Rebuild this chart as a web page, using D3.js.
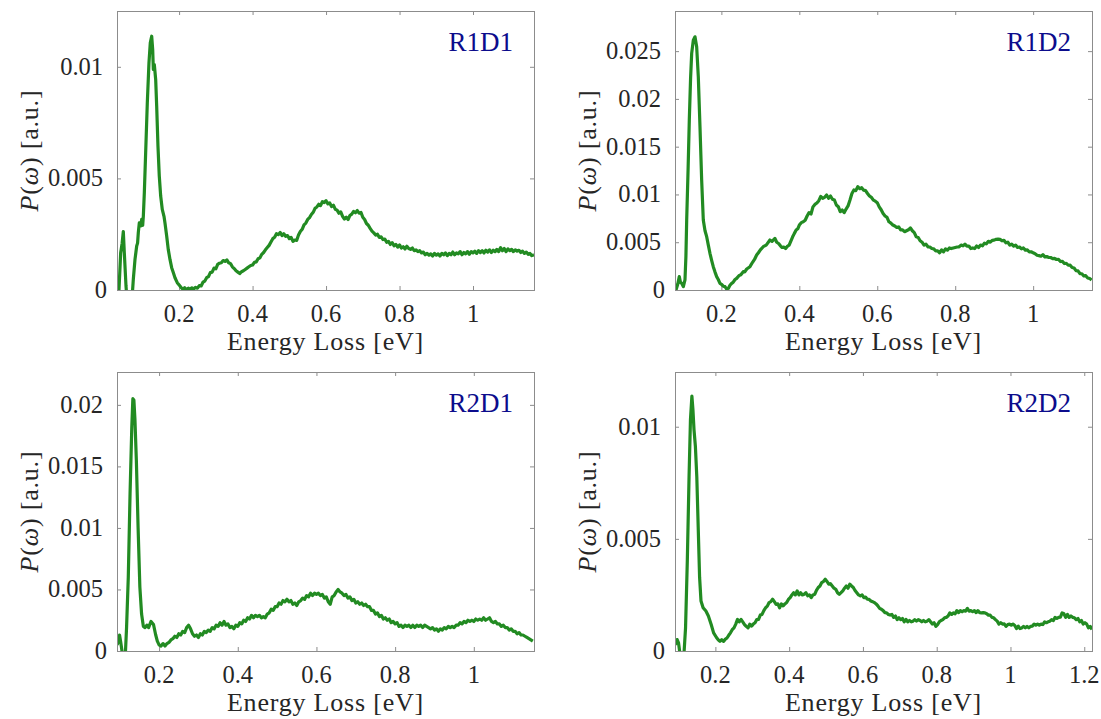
<!DOCTYPE html>
<html><head><meta charset="utf-8">
<script src="https://cdn.jsdelivr.net/npm/d3@7"></script>
<style>body{margin:0;background:#fff}</style>
</head><body><svg id="c" width="1101" height="719"></svg>
<script>
const seriesR1D1=[[0.034,-0.0006],[0.0364,0],[0.041,0.00167],[0.045,0.0021],[0.0482,0.00262],[0.0509,0.00167],[0.0555,0.00018],[0.059,-0.0006],[0.066,-0.0008],[0.0727,-0.0002],[0.0754,0.00048],[0.080,0.00137],[0.0846,0.00197],[0.087,0.0021],[0.089,0.00257],[0.0917,0.00301],[0.0955,0.00287],[0.0982,0.00316],[0.1009,0.0029],[0.1027,0.00331],[0.1054,0.00436],[0.109,0.00615],[0.1135,0.00839],[0.118,0.01018],[0.1216,0.01107],[0.1254,0.01137],[0.1281,0.01078],[0.1299,0.00988],[0.1326,0.0101],[0.1363,0.00943],[0.139,0.00824],[0.1425,0.00645],[0.1461,0.0051],[0.1499,0.00421],[0.1542,0.00361],[0.1589,0.0033],[0.1616,0.003],[0.1662,0.00242],[0.1705,0.00182],[0.1752,0.00137],[0.1798,0.001],[0.1842,0.00078],[0.1888,0.00055],[0.195,0.00033],[0.2024,0.00018],[0.205,0.00012],[0.21,0.00004],[0.215,0.0001],[0.22,0.00002],[0.225,0.00008],[0.23,0.00003],[0.235,0.0001],[0.24,0.00005],[0.245,0.00012],[0.25,0.00008],[0.255,0.0002],[0.26,0.00018],[0.265,0.00035],[0.27,0.0004],[0.275,0.00055],[0.28,0.0006],[0.285,0.00078],[0.29,0.0008],[0.295,0.00098],[0.3,0.00095],[0.305,0.00115],[0.31,0.0012],[0.315,0.00122],[0.32,0.00132],[0.325,0.00128],[0.33,0.00135],[0.335,0.00122],[0.34,0.00118],[0.345,0.00104],[0.35,0.00096],[0.355,0.00086],[0.36,0.0008],[0.365,0.00074],[0.37,0.00082],[0.375,0.00086],[0.38,0.00092],[0.385,0.00098],[0.39,0.00104],[0.395,0.0011],[0.4,0.00112],[0.405,0.00124],[0.41,0.00126],[0.415,0.0014],[0.42,0.00144],[0.425,0.0016],[0.43,0.00168],[0.435,0.0018],[0.44,0.0019],[0.445,0.002],[0.45,0.00215],[0.455,0.0023],[0.46,0.00236],[0.465,0.00252],[0.47,0.00248],[0.475,0.00258],[0.48,0.00244],[0.485,0.00252],[0.49,0.0024],[0.495,0.00244],[0.5,0.0023],[0.505,0.00236],[0.51,0.00218],[0.515,0.00224],[0.52,0.00222],[0.525,0.00246],[0.53,0.00262],[0.535,0.00272],[0.54,0.00292],[0.545,0.003],[0.55,0.00316],[0.555,0.00324],[0.56,0.00338],[0.565,0.00348],[0.57,0.00366],[0.575,0.00372],[0.58,0.00384],[0.585,0.00378],[0.59,0.00396],[0.595,0.00392],[0.6,0.004],[0.605,0.00386],[0.61,0.0039],[0.615,0.00374],[0.62,0.0038],[0.625,0.00362],[0.63,0.00358],[0.635,0.00344],[0.64,0.0035],[0.645,0.0033],[0.65,0.00318],[0.655,0.00326],[0.66,0.00316],[0.665,0.00334],[0.67,0.0034],[0.675,0.00352],[0.68,0.00346],[0.685,0.00356],[0.69,0.00344],[0.695,0.00348],[0.7,0.00326],[0.705,0.00316],[0.71,0.00298],[0.715,0.0029],[0.72,0.00276],[0.725,0.00264],[0.73,0.00256],[0.735,0.00246],[0.74,0.0025],[0.745,0.00236],[0.75,0.00238],[0.755,0.00226],[0.76,0.00228],[0.765,0.00214],[0.77,0.00218],[0.775,0.00204],[0.78,0.00212],[0.785,0.00198],[0.79,0.00204],[0.795,0.00192],[0.8,0.00202],[0.805,0.00188],[0.81,0.00194],[0.815,0.00184],[0.82,0.00196],[0.825,0.00186],[0.83,0.00182],[0.835,0.00188],[0.84,0.00176],[0.845,0.0018],[0.85,0.00172],[0.855,0.00176],[0.86,0.00166],[0.865,0.0017],[0.87,0.00158],[0.875,0.00164],[0.88,0.00156],[0.885,0.00162],[0.89,0.00152],[0.895,0.00164],[0.9,0.00156],[0.905,0.00162],[0.91,0.00152],[0.915,0.00164],[0.92,0.00158],[0.925,0.00166],[0.93,0.00154],[0.935,0.00164],[0.94,0.00158],[0.945,0.0017],[0.95,0.00158],[0.955,0.00166],[0.96,0.00162],[0.965,0.00172],[0.97,0.00158],[0.975,0.00168],[0.98,0.00162],[0.985,0.00172],[0.99,0.0016],[0.995,0.00172],[1.0,0.00166],[1.005,0.00174],[1.01,0.00164],[1.015,0.00176],[1.02,0.00168],[1.025,0.00176],[1.03,0.00166],[1.035,0.00178],[1.04,0.0017],[1.045,0.0018],[1.05,0.00168],[1.055,0.00178],[1.06,0.00172],[1.065,0.00182],[1.07,0.00172],[1.075,0.0019],[1.08,0.00176],[1.085,0.00186],[1.09,0.00172],[1.095,0.00184],[1.1,0.00176],[1.105,0.00182],[1.11,0.00172],[1.115,0.0018],[1.12,0.00174],[1.125,0.00178],[1.13,0.00168],[1.135,0.00174],[1.14,0.00164],[1.145,0.0017],[1.15,0.0016],[1.155,0.00164],[1.16,0.00154],[1.166,0.00158]];

const seriesR1D2=[[0.0836,0],[0.088,0.0006],[0.092,0.0014],[0.095,0.0008],[0.0982,0.0007],[0.1024,0.00035],[0.1066,0.00105],[0.109,0.0035],[0.111,0.00732],[0.1145,0.0125],[0.1177,0.01778],[0.121,0.0222],[0.1238,0.02476],[0.128,0.02615],[0.1323,0.0265],[0.1366,0.02546],[0.1408,0.02232],[0.1451,0.01709],[0.1494,0.01151],[0.1536,0.00732],[0.158,0.0062],[0.1623,0.00558],[0.1665,0.0047],[0.1707,0.00384],[0.175,0.0031],[0.1792,0.00244],[0.1835,0.0019],[0.1879,0.0014],[0.192,0.0011],[0.1964,0.0007],[0.2,0.0006],[0.205,0.0004],[0.2092,0.00035],[0.2135,0.0001],[0.2177,0.00017],[0.222,0.0005],[0.2264,0.0007],[0.23,0.0008],[0.235,0.0011],[0.2392,0.00122],[0.245,0.0015],[0.25,0.0016],[0.2561,0.00192],[0.26,0.0019],[0.265,0.0022],[0.2733,0.00244],[0.28,0.0029],[0.285,0.0032],[0.2905,0.00366],[0.295,0.0039],[0.3,0.0042],[0.3074,0.00453],[0.315,0.0047],[0.3246,0.00523],[0.33,0.0051],[0.3374,0.0054],[0.342,0.005],[0.3468,0.00487],[0.352,0.0046],[0.3559,0.00445],[0.36,0.0045],[0.3649,0.00434],[0.37,0.0046],[0.3739,0.00469],[0.378,0.0051],[0.3829,0.00557],[0.387,0.0059],[0.3919,0.00627],[0.396,0.0064],[0.4,0.0068],[0.405,0.00705],[0.41,0.00714],[0.415,0.0073],[0.42,0.00774],[0.425,0.0081],[0.43,0.00795],[0.435,0.0087],[0.44,0.00896],[0.445,0.0091],[0.45,0.00935],[0.455,0.0098],[0.46,0.0096],[0.465,0.0097],[0.47,0.00994],[0.475,0.0096],[0.48,0.00984],[0.485,0.0095],[0.49,0.00942],[0.495,0.0089],[0.5,0.00872],[0.505,0.0082],[0.51,0.00837],[0.515,0.0081],[0.52,0.00847],[0.525,0.0088],[0.53,0.00942],[0.535,0.0101],[0.54,0.01047],[0.545,0.0104],[0.55,0.01082],[0.555,0.0106],[0.56,0.0107],[0.565,0.01045],[0.57,0.0104],[0.575,0.0101],[0.58,0.00984],[0.585,0.0097],[0.59,0.0094],[0.595,0.0093],[0.6,0.00914],[0.605,0.0087],[0.61,0.0084],[0.615,0.008],[0.62,0.00774],[0.625,0.0076],[0.63,0.00714],[0.635,0.0070],[0.64,0.0068],[0.645,0.0067],[0.65,0.00655],[0.655,0.0066],[0.66,0.0063],[0.665,0.0063],[0.67,0.0061],[0.675,0.0062],[0.68,0.0063],[0.685,0.0065],[0.69,0.0062],[0.695,0.006],[0.7,0.00557],[0.705,0.0055],[0.71,0.00515],[0.715,0.005],[0.72,0.00469],[0.725,0.0048],[0.73,0.00452],[0.735,0.0045],[0.74,0.00434],[0.745,0.0043],[0.75,0.0041],[0.755,0.0041],[0.76,0.0039],[0.765,0.0042],[0.77,0.0040],[0.775,0.0043],[0.78,0.00417],[0.785,0.0044],[0.79,0.00434],[0.795,0.0044],[0.8,0.00445],[0.805,0.0045],[0.81,0.00452],[0.815,0.0047],[0.82,0.00462],[0.825,0.0048],[0.83,0.00459],[0.835,0.0046],[0.84,0.00434],[0.845,0.0044],[0.85,0.00434],[0.855,0.0046],[0.86,0.00445],[0.865,0.0047],[0.87,0.00462],[0.875,0.0049],[0.88,0.00483],[0.885,0.0051],[0.89,0.005],[0.895,0.0052],[0.9,0.00522],[0.905,0.0053],[0.91,0.00532],[0.915,0.0053],[0.92,0.00515],[0.925,0.0052],[0.93,0.00494],[0.935,0.005],[0.94,0.00469],[0.945,0.0048],[0.95,0.00459],[0.955,0.0047],[0.96,0.00445],[0.965,0.0045],[0.97,0.00431],[0.975,0.0044],[0.98,0.00417],[0.985,0.0042],[0.99,0.004],[0.995,0.0040],[1.0,0.00389],[1.005,0.0038],[1.01,0.00364],[1.015,0.0036],[1.02,0.00354],[1.025,0.0037],[1.03,0.00347],[1.035,0.0035],[1.04,0.0034],[1.045,0.0034],[1.05,0.00329],[1.055,0.0033],[1.06,0.00319],[1.065,0.0032],[1.07,0.00298],[1.075,0.003],[1.08,0.00277],[1.085,0.0028],[1.09,0.00259],[1.095,0.0026],[1.1,0.00235],[1.105,0.0023],[1.11,0.00203],[1.115,0.002],[1.12,0.00172],[1.125,0.0017],[1.13,0.00147],[1.135,0.0015],[1.14,0.00126],[1.145,0.0012],[1.15,0.00105]];

const seriesR2D1=[[0.0932,0.0005],[0.0968,0.0008],[0.0995,0.0013],[0.1021,0.0008],[0.1057,0],[0.108,-0.0008],[0.111,-0.0006],[0.1146,0],[0.1173,0.0019],[0.1217,0.006],[0.1262,0.0128],[0.1306,0.0182],[0.1333,0.0205],[0.1359,0.0204],[0.1386,0.0188],[0.1422,0.0155],[0.1466,0.01005],[0.1511,0.0052],[0.1555,0.003],[0.16,0.002],[0.1644,0.0019],[0.1689,0.0021],[0.1733,0.0019],[0.1795,0.0024],[0.1858,0.00215],[0.1911,0.00134],[0.1955,0.0008],[0.2,0.0005],[0.205,0.0004],[0.21,0.0006],[0.215,0.0004],[0.22,0.0006],[0.225,0.0007],[0.23,0.0009],[0.235,0.001],[0.24,0.0012],[0.245,0.0011],[0.25,0.0014],[0.255,0.0013],[0.26,0.0016],[0.265,0.0015],[0.27,0.0019],[0.275,0.0021],[0.28,0.0018],[0.285,0.0014],[0.29,0.0012],[0.295,0.0013],[0.3,0.0011],[0.305,0.0014],[0.31,0.0013],[0.315,0.0016],[0.32,0.0015],[0.325,0.0017],[0.33,0.0016],[0.335,0.0019],[0.34,0.0018],[0.345,0.0021],[0.35,0.002],[0.355,0.0023],[0.36,0.0021],[0.365,0.0024],[0.37,0.0021],[0.375,0.0022],[0.38,0.0019],[0.385,0.002],[0.39,0.0018],[0.395,0.0021],[0.4,0.002],[0.405,0.0023],[0.41,0.0022],[0.415,0.0025],[0.42,0.0024],[0.425,0.0027],[0.43,0.0026],[0.435,0.0029],[0.44,0.0027],[0.445,0.0029],[0.45,0.0028],[0.455,0.0029],[0.46,0.0027],[0.465,0.0028],[0.47,0.0027],[0.475,0.003],[0.48,0.0031],[0.485,0.0034],[0.49,0.0033],[0.495,0.0036],[0.5,0.0036],[0.505,0.0039],[0.51,0.0038],[0.515,0.0041],[0.52,0.004],[0.525,0.0042],[0.53,0.004],[0.535,0.0041],[0.54,0.0038],[0.545,0.0039],[0.55,0.0037],[0.555,0.004],[0.56,0.0041],[0.565,0.0043],[0.57,0.0042],[0.575,0.0045],[0.58,0.0044],[0.585,0.0047],[0.59,0.0045],[0.595,0.0047],[0.6,0.0046],[0.605,0.0047],[0.61,0.0045],[0.615,0.0046],[0.62,0.0043],[0.625,0.0044],[0.63,0.004],[0.635,0.0038],[0.64,0.0044],[0.645,0.0045],[0.65,0.0048],[0.655,0.005],[0.66,0.0048],[0.665,0.0047],[0.67,0.0045],[0.675,0.0046],[0.68,0.0043],[0.685,0.0044],[0.69,0.0041],[0.695,0.0042],[0.7,0.0039],[0.705,0.004],[0.71,0.0038],[0.715,0.0039],[0.72,0.0037],[0.725,0.0038],[0.73,0.0036],[0.735,0.0036],[0.74,0.0033],[0.745,0.0033],[0.75,0.003],[0.755,0.0031],[0.76,0.0028],[0.765,0.0029],[0.77,0.0026],[0.775,0.0027],[0.78,0.0025],[0.785,0.0026],[0.79,0.0023],[0.795,0.0024],[0.8,0.0022],[0.805,0.0023],[0.81,0.002],[0.815,0.0021],[0.82,0.0019],[0.825,0.0021],[0.83,0.002],[0.835,0.0021],[0.84,0.0019],[0.845,0.0021],[0.85,0.0019],[0.855,0.0021],[0.86,0.002],[0.865,0.0021],[0.87,0.0019],[0.875,0.0021],[0.88,0.002],[0.885,0.0019],[0.89,0.0018],[0.895,0.0019],[0.9,0.0017],[0.905,0.0018],[0.91,0.0016],[0.915,0.0018],[0.92,0.0017],[0.925,0.0019],[0.93,0.0018],[0.935,0.002],[0.94,0.0019],[0.945,0.002],[0.95,0.0019],[0.955,0.0021],[0.96,0.0021],[0.965,0.0023],[0.97,0.0022],[0.975,0.0024],[0.98,0.0023],[0.985,0.0025],[0.99,0.0024],[0.995,0.0025],[1.0,0.0024],[1.005,0.0026],[1.01,0.0025],[1.015,0.0026],[1.02,0.0025],[1.025,0.0027],[1.03,0.0025],[1.035,0.0026],[1.04,0.0027],[1.045,0.0024],[1.05,0.0023],[1.055,0.0024],[1.06,0.0022],[1.065,0.0022],[1.07,0.002],[1.075,0.0021],[1.08,0.0019],[1.085,0.0019],[1.09,0.0017],[1.095,0.0018],[1.1,0.0016],[1.105,0.0016],[1.11,0.0014],[1.115,0.0015],[1.12,0.0013],[1.125,0.0013],[1.13,0.0012],[1.135,0.0011],[1.14,0.001],[1.145,0.0009],[1.15,0.0008]];

const seriesR2D2=[[0.0906,0.00028],[0.0934,0.00036],[0.0963,0.00051],[0.1001,0.00036],[0.103,0],[0.1077,-0.0005],[0.1153,0],[0.1191,0.00103],[0.1239,0.00403],[0.1286,0.00777],[0.1324,0.01031],[0.1363,0.01136],[0.1391,0.01076],[0.142,0.00987],[0.1458,0.00912],[0.1496,0.00777],[0.1534,0.00552],[0.1572,0.00328],[0.161,0.00223],[0.1667,0.00193],[0.1743,0.00178],[0.181,0.00156],[0.1886,0.00118],[0.1952,0.00081],[0.2029,0.0006],[0.2076,0.0005],[0.2124,0.00043],[0.2171,0.0005],[0.2219,0.00043],[0.2266,0.00052],[0.2314,0.00058],[0.2361,0.0007],[0.2409,0.00081],[0.2456,0.00095],[0.2504,0.00103],[0.2552,0.0012],[0.26,0.00141],[0.2647,0.0013],[0.2695,0.00141],[0.2742,0.0013],[0.279,0.00118],[0.2837,0.0011],[0.2885,0.00103],[0.2932,0.0012],[0.298,0.00111],[0.3027,0.0012],[0.3075,0.00126],[0.3122,0.0014],[0.317,0.00141],[0.3217,0.0016],[0.3265,0.00163],[0.3313,0.0018],[0.3361,0.00193],[0.3408,0.002],[0.3456,0.00216],[0.3503,0.0022],[0.3551,0.00231],[0.3598,0.0022],[0.3646,0.00208],[0.3693,0.0021],[0.3741,0.00193],[0.3788,0.0021],[0.3836,0.00201],[0.3884,0.0021],[0.3932,0.00216],[0.3979,0.0023],[0.4027,0.00238],[0.4074,0.0025],[0.4122,0.0026],[0.4169,0.0025],[0.4217,0.00268],[0.4264,0.0025],[0.4312,0.0026],[0.4359,0.0025],[0.4407,0.00253],[0.4454,0.0026],[0.4502,0.00246],[0.455,0.0025],[0.4598,0.00238],[0.4645,0.0025],[0.4693,0.00253],[0.474,0.0027],[0.4788,0.00283],[0.4835,0.0029],[0.4883,0.00305],[0.493,0.0031],[0.4978,0.0032],[0.5025,0.0031],[0.5073,0.00298],[0.512,0.003],[0.5168,0.0029],[0.5216,0.0028],[0.5264,0.00275],[0.5311,0.0026],[0.5359,0.00253],[0.5406,0.0026],[0.5454,0.00268],[0.5501,0.0028],[0.5549,0.0029],[0.5596,0.0028],[0.5644,0.00298],[0.5691,0.0029],[0.5739,0.00283],[0.5786,0.0027],[0.5834,0.0026],[0.5882,0.0025],[0.593,0.00246],[0.5977,0.0025],[0.6025,0.00238],[0.6072,0.0024],[0.612,0.00231],[0.6167,0.0023],[0.6215,0.00223],[0.6262,0.0022],[0.631,0.00216],[0.6357,0.0021],[0.6405,0.00201],[0.6452,0.0019],[0.65,0.00186],[0.6548,0.0018],[0.6596,0.00171],[0.6643,0.0017],[0.6691,0.00163],[0.6738,0.0016],[0.6786,0.00163],[0.6833,0.0015],[0.6881,0.00156],[0.6928,0.0014],[0.6976,0.00148],[0.7023,0.0014],[0.7071,0.00145],[0.7119,0.0013],[0.7167,0.00141],[0.7214,0.0013],[0.7262,0.00136],[0.731,0.0013],[0.7357,0.00133],[0.7404,0.0014],[0.7452,0.00133],[0.75,0.0014],[0.7547,0.00136],[0.7595,0.0013],[0.7642,0.00136],[0.769,0.0013],[0.7737,0.00133],[0.7785,0.0014],[0.7833,0.0013],[0.788,0.0012],[0.7928,0.00126],[0.7976,0.0011],[0.8023,0.00118],[0.807,0.0013],[0.8118,0.00136],[0.8165,0.0014],[0.8213,0.00148],[0.826,0.0015],[0.8308,0.00156],[0.8356,0.0017],[0.8404,0.00163],[0.8451,0.0017],[0.8499,0.00166],[0.8546,0.0018],[0.8594,0.00171],[0.8641,0.0018],[0.8689,0.00175],[0.8736,0.0018],[0.8784,0.00178],[0.8831,0.0019],[0.8879,0.00178],[0.8926,0.0018],[0.8974,0.00175],[0.9022,0.0018],[0.907,0.00171],[0.9117,0.0018],[0.9165,0.00171],[0.9212,0.0017],[0.926,0.00171],[0.9307,0.0017],[0.9355,0.00166],[0.9402,0.0016],[0.945,0.0016],[0.9497,0.0015],[0.9545,0.00148],[0.9592,0.0014],[0.964,0.00133],[0.9688,0.0012],[0.9736,0.00126],[0.9783,0.0012],[0.9831,0.00121],[0.9878,0.0011],[0.9926,0.00118],[0.9973,0.0012],[1.0021,0.00115],[1.0068,0.0012],[1.0116,0.00114],[1.0163,0.001],[1.0211,0.00111],[1.0258,0.001],[1.0306,0.00103],[1.0354,0.0011],[1.0402,0.00103],[1.0449,0.0011],[1.0497,0.00103],[1.0545,0.0011],[1.0592,0.00111],[1.064,0.0012],[1.0687,0.00115],[1.0735,0.0012],[1.0782,0.00115],[1.083,0.0012],[1.0877,0.00118],[1.0925,0.0013],[1.0972,0.00126],[1.102,0.0013],[1.1068,0.00133],[1.1115,0.0014],[1.1163,0.00136],[1.121,0.0015],[1.1258,0.00145],[1.1305,0.0015],[1.1353,0.00151],[1.14,0.0017],[1.1448,0.00166],[1.1496,0.0015],[1.1543,0.00163],[1.1591,0.0015],[1.1639,0.00156],[1.1686,0.0015],[1.1734,0.00148],[1.1781,0.0014],[1.1829,0.00145],[1.1877,0.0013],[1.1924,0.00136],[1.1972,0.0012],[1.2019,0.00126],[1.2066,0.0012],[1.2114,0.00103],[1.2161,0.0011],[1.2209,0.00096]];

const panelTitles=["R1D1","R1D2","R2D1","R2D2"];
const xTicksR1=[0.2,0.4,0.6,0.8,1];
const xTicksR2D2=[0.2,0.4,0.6,0.8,1,1.2];
const yTicksR1D1=[0,0.005,0.01];
const yTicksR1D2=[0,0.005,0.01,0.015,0.02,0.025];
const yTicksR2D1=[0,0.005,0.01,0.015,0.02];
const yTicksR2D2=[0,0.005,0.01];
const xLimits=[[0.031,1.166],[0.081,1.151],[0.093,1.153],[0.0905,1.221]];
const yLimits=[[0,0.0125],[0,0.0292],[0,0.02267],[0,0.01244]];
const xLabel="Energy Loss [eV]";

const panels=[
 {data:seriesR1D1,title:panelTitles[0],xt:xTicksR1,yt:yTicksR1D1,xl:xLimits[0],yl:yLimits[0],left:117,top:11},
 {data:seriesR1D2,title:panelTitles[1],xt:xTicksR1,yt:yTicksR1D2,xl:xLimits[1],yl:yLimits[1],left:675,top:11},
 {data:seriesR2D1,title:panelTitles[2],xt:xTicksR1,yt:yTicksR2D1,xl:xLimits[2],yl:yLimits[2],left:117,top:372},
 {data:seriesR2D2,title:panelTitles[3],xt:xTicksR2D2,yt:yTicksR2D2,xl:xLimits[3],yl:yLimits[3],left:675,top:372}
];
const W=417,H=279;
const FF='"Liberation Serif"';
const svg=d3.select("#c");
const fmt=d3.format("~g");
const texts=[];

panels.forEach((p,i)=>{
  const g=svg.append("g").attr("transform",`translate(${p.left},${p.top})`);
  const x=d3.scaleLinear().domain(p.xl).range([0,W]);
  const y=d3.scaleLinear().domain(p.yl).range([H,0]);
  const cid="clip"+i;
  g.append("clipPath").attr("id",cid).append("rect").attr("width",W).attr("height",H);

  const style=sel=>{
    sel.select(".domain").remove();
    sel.selectAll(".tick text").remove();
    sel.selectAll(".tick line").attr("stroke","#8c8c8c").attr("stroke-width",1);
  };
  g.append("g").attr("transform",`translate(0,${H})`).call(d3.axisBottom(x).tickValues(p.xt).tickSizeInner(-4).tickSizeOuter(0)).call(style);
  g.append("g").call(d3.axisTop(x).tickValues(p.xt).tickSizeInner(-4).tickSizeOuter(0)).call(style);
  g.append("g").call(d3.axisLeft(y).tickValues(p.yt).tickSizeInner(-4).tickSizeOuter(0)).call(style);
  g.append("g").attr("transform",`translate(${W},0)`).call(d3.axisRight(y).tickValues(p.yt).tickSizeInner(-4).tickSizeOuter(0)).call(style);

  const line=d3.line().x(d=>x(d[0])).y(d=>y(d[1]));
  g.append("path").datum(p.data).attr("clip-path",`url(#${cid})`)
    .attr("fill","none").attr("stroke","#228b22").attr("stroke-width",3.2)
    .attr("stroke-linejoin","round").attr("d",line);

  g.append("rect").attr("width",W).attr("height",H).attr("fill","none")
    .attr("stroke","#8c8c8c").attr("stroke-width",1).attr("shape-rendering","crispEdges");

  // text, placed at page level through the same scales
  p.xt.forEach(v=>texts.push({x:p.left+x(v),y:p.top+H+32,a:"middle",s:24.5,c:"#262626",t:fmt(v)}));
  p.yt.forEach(v=>texts.push({x:p.left-(v===0?10:14),y:p.top+y(v)+8,a:"end",s:24.5,c:"#262626",t:fmt(v)}));
  texts.push({x:p.left+W-21,y:p.top+40,a:"end",s:27,c:"#0c0c8c",t:p.title});
  texts.push({x:p.left+W/2,y:p.top+H+60,a:"middle",s:26,c:"#262626",t:xLabel,ls:0.8});
  texts.push({x:p.left-79,y:p.top+H/2,a:"middle",s:26,c:"#262626",rot:true});
});

texts.forEach(d=>{
  const t=svg.append("text").attr("x",d.x).attr("y",d.y).attr("text-anchor",d.a)
    .style("font-family",FF).style("font-size",d.s+"px").attr("fill",d.c);
  if(d.ls) t.attr("letter-spacing",d.ls);
  if(d.rot){
    t.attr("x",0).attr("y",0).attr("transform",`translate(${d.x},${d.y}) rotate(-90)`).attr("letter-spacing",0.8);
    t.append("tspan").style("font-style","italic").text("P");
    t.append("tspan").text("(");
    t.append("tspan").style("font-style","italic").text("ω");
    t.append("tspan").text(") [a.u.]");
  } else t.text(d.t);
});
</script></body></html>
